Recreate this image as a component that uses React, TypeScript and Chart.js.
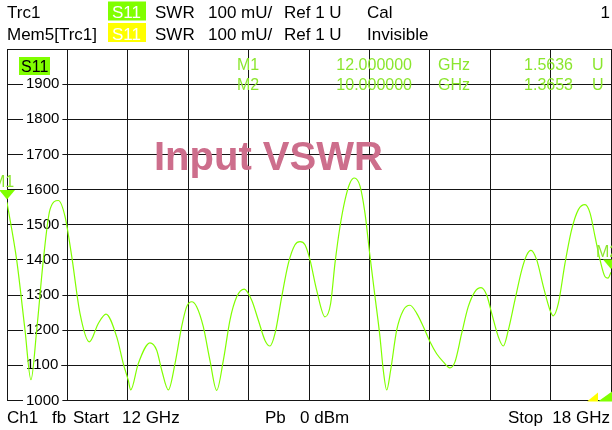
import React, { useEffect, useRef } from 'react';
import { Chart, registerables } from 'chart.js';

Chart.register(...registerables);

// ---- data (frequency in GHz, SWR in mU) ----
const freqGHz = [
  12.0, 12.096, 12.179, 12.238, 12.295, 12.361, 12.427, 12.51, 12.576, 12.643,
  12.725, 12.818, 12.907, 12.983, 13.09, 13.155, 13.205, 13.229, 13.304, 13.42,
  13.487, 13.537, 13.603, 13.669, 13.735, 13.785, 13.835, 13.884, 13.95, 14.016,
  14.083, 14.149, 14.215, 14.282, 14.357, 14.43, 14.496, 14.563, 14.612, 14.662,
  14.729, 14.795, 14.861, 14.911, 14.96, 15.01, 15.076, 15.159, 15.215, 15.258,
  15.308, 15.358, 15.407, 15.45, 15.507, 15.556, 15.606, 15.656, 15.705, 15.738,
  15.772, 15.811, 15.871, 15.937, 16.003, 16.07, 16.136, 16.202, 16.268, 16.334,
  16.4, 16.45, 16.516, 16.582, 16.649, 16.709, 16.765, 16.815, 16.881, 16.93,
  16.98, 17.046, 17.113, 17.163, 17.205, 17.262, 17.328, 17.394, 17.427, 17.477,
  17.543, 17.609, 17.676, 17.742, 17.792, 17.841, 17.891, 17.941, 17.97, 18.0,
];
const swrMilliU = [
  1564, 1400, 1200, 1059, 1200, 1400, 1543, 1569, 1524, 1410,
  1248, 1167, 1219, 1246, 1181, 1105, 1057, 1030, 1105, 1164,
  1143, 1086, 1030, 1105, 1210, 1267, 1281, 1267, 1210, 1114,
  1029, 1114, 1229, 1295, 1317, 1286, 1229, 1171, 1155, 1190,
  1295, 1390, 1443, 1452, 1443, 1400, 1314, 1238, 1276, 1390,
  1495, 1571, 1619, 1633, 1610, 1533, 1410, 1295, 1181, 1086,
  1030, 1086, 1200, 1257, 1271, 1248, 1210, 1167, 1133, 1110,
  1093, 1110, 1190, 1267, 1310, 1321, 1300, 1248, 1181, 1155,
  1200, 1286, 1371, 1414, 1427, 1400, 1324, 1257, 1241, 1276,
  1390, 1486, 1543, 1557, 1533, 1467, 1400, 1352, 1348, 1365,
];

const yMin = 1000;
const yMax = 2000;
const yStep = 100;
const xMin = 12;
const xMax = 18;
const xStep = 0.6;

const markerNames = ['M1', 'M2'];
const markerFreqs = [12.0, 18.0];
const markerValuesU = [1.5636, 1.3653];
const markerFreqLabels = ['12.000000', '10.000000'];
const markerValueLabels = ['1.5636', '1.3653'];

const FONT = '"Liberation Sans", Arial, sans-serif';
const GREEN = '#80ff00';
const TEXT_GREEN = '#8be62e';
const TITLE_PINK = '#cd6e8c';

const overlayPlugin = {
  id: 'vnaOverlay',
  afterDraw(chart: any) {
    const ctx: CanvasRenderingContext2D = chart.ctx;
    const xs = chart.scales.x;
    const ys = chart.scales.y;
    ctx.save();
    ctx.textBaseline = 'alphabetic';

    // ---- header ----
    ctx.font = `17px ${FONT}`;
    ctx.fillStyle = '#000';
    ctx.textAlign = 'left';
    ctx.fillText('Trc1', 7, 18);
    ctx.fillText('Mem5[Trc1]', 7, 39.5);
    // S11 boxes
    ctx.fillStyle = GREEN;
    ctx.fillRect(108, 1.5, 38, 19);
    ctx.fillStyle = '#ffff00';
    ctx.fillRect(108, 23, 38, 19);
    ctx.fillStyle = '#fff';
    ctx.fillText('S11', 112, 18);
    ctx.fillText('S11', 112, 39.5);
    ctx.fillStyle = '#000';
    for (const by of [18, 39.5]) {
      ctx.fillText('SWR', 155, by);
      ctx.fillText('100 mU/', 208, by);
      ctx.fillText('Ref 1 U', 284, by);
    }
    ctx.fillText('Cal', 367, 18);
    ctx.fillText('Invisible', 367, 39.5);
    ctx.textAlign = 'right';
    ctx.fillText('1', 610, 18);

    // ---- footer ----
    ctx.font = `17px ${FONT}`;
    ctx.textAlign = 'left';
    ctx.fillText('Ch1', 7, 423);
    ctx.fillText('fb', 52, 423);
    ctx.fillText('Start', 73, 423);
    ctx.fillText('12 GHz', 122, 423);
    ctx.fillText('Pb', 265, 423);
    ctx.fillText('0 dBm', 300, 423);
    ctx.fillText('Stop', 508, 423);
    ctx.textAlign = 'right';
    ctx.fillText('18 GHz', 610, 423);

    // ---- title ----
    ctx.font = `bold 40px ${FONT}`;
    ctx.fillStyle = TITLE_PINK;
    ctx.textAlign = 'left';
    ctx.fillText('Input VSWR', 154, 170);

    // ---- trace label box ----
    ctx.fillStyle = GREEN;
    ctx.fillRect(19, 57, 31, 18);
    ctx.fillStyle = '#000';
    ctx.font = `16px ${FONT}`;
    ctx.fillText('S11', 21, 72);

    // ---- marker table ----
    ctx.fillStyle = TEXT_GREEN;
    ctx.font = `16px ${FONT}`;
    markerNames.forEach((name, i) => {
      const by = 70 + i * 19.5;
      ctx.textAlign = 'left';
      ctx.fillText(name, 237, by);
      ctx.textAlign = 'right';
      ctx.fillText(markerFreqLabels[i], 412, by);
      ctx.textAlign = 'left';
      ctx.fillText('GHz', 438, by);
      ctx.textAlign = 'right';
      ctx.fillText(markerValueLabels[i], 573, by);
      ctx.textAlign = 'left';
      ctx.fillText('U', 592, by);
    });

    // ---- markers on trace ----
    markerNames.forEach((name, i) => {
      const px = xs.getPixelForValue(markerFreqs[i]);
      const py = ys.getPixelForValue(markerValuesU[i] * 1000);
      ctx.fillStyle = GREEN;
      ctx.beginPath();
      ctx.moveTo(px - 8, py - 12.5);
      ctx.lineTo(px + 8, py - 12.5);
      ctx.lineTo(px, py - 3);
      ctx.closePath();
      ctx.fill();
      ctx.fillStyle = TEXT_GREEN;
      ctx.font = `16px ${FONT}`;
      ctx.textAlign = 'center';
      ctx.fillText(name, px - 4, py - 15);
    });

    // ---- off-screen indicators bottom right ----
    const bottom = chart.chartArea.bottom;
    ctx.fillStyle = '#ffff00';
    ctx.beginPath();
    ctx.moveTo(587, bottom + 1);
    ctx.lineTo(598, bottom + 1);
    ctx.lineTo(598, bottom - 8);
    ctx.closePath();
    ctx.fill();
    ctx.fillStyle = GREEN;
    ctx.beginPath();
    ctx.moveTo(598, bottom + 1);
    ctx.lineTo(612, bottom + 1);
    ctx.lineTo(612, bottom - 9);
    ctx.closePath();
    ctx.fill();

    ctx.restore();
  },
};

export default function App() {
  const canvasRef = useRef<HTMLCanvasElement | null>(null);

  useEffect(() => {
    const canvas = canvasRef.current;
    if (!canvas) return;
    const points = freqGHz.map((f, i) => ({ x: f, y: swrMilliU[i] }));
    const gridColor = '#151515';
    const chart = new Chart(canvas, {
      type: 'line',
      data: {
        datasets: [
          {
            label: 'S11',
            data: points,
            borderColor: GREEN,
            borderWidth: 1.2,
            pointRadius: 0,
            cubicInterpolationMode: 'monotone',
            fill: false,
          },
        ],
      },
      options: {
        responsive: false,
        animation: false,
        devicePixelRatio: 1,
        layout: { padding: { left: 7, right: 1, top: 49, bottom: 29.5 } },
        plugins: {
          legend: { display: false },
          tooltip: { enabled: false },
          title: { display: false },
        },
        scales: {
          x: {
            type: 'linear',
            min: xMin,
            max: xMax,
            ticks: { display: false, stepSize: xStep },
            grid: { color: gridColor, lineWidth: 1, drawTicks: false },
            border: { display: false },
            afterFit: (s: any) => {
              s.height = 0;
            },
          },
          y: {
            type: 'linear',
            min: yMin,
            max: yMax,
            ticks: {
              stepSize: yStep,
              mirror: true,
              padding: 19,
              color: '#000',
              font: { size: 15, family: FONT },
              callback: (v: any) => (Number(v) >= yMax ? '' : String(v)),
              showLabelBackdrop: (c: any) => !!c.tick && c.tick.value < yMax,
              backdropColor: '#ffffff',
              backdropPadding: { left: 3, right: 3, top: 1, bottom: 1 },
            },
            grid: { color: gridColor, lineWidth: 1, drawTicks: false },
            border: { display: false },
            afterFit: (s: any) => {
              s.width = 0;
            },
          },
        },
      },
      plugins: [overlayPlugin],
    } as any);
    return () => chart.destroy();
  }, []);

  return (
    <div
      style={{
        position: 'fixed',
        left: 0,
        top: 0,
        width: 612,
        height: 430,
        background: '#fff',
      }}
    >
      <canvas ref={canvasRef} width={612} height={430} style={{ display: 'block' }} />
    </div>
  );
}
